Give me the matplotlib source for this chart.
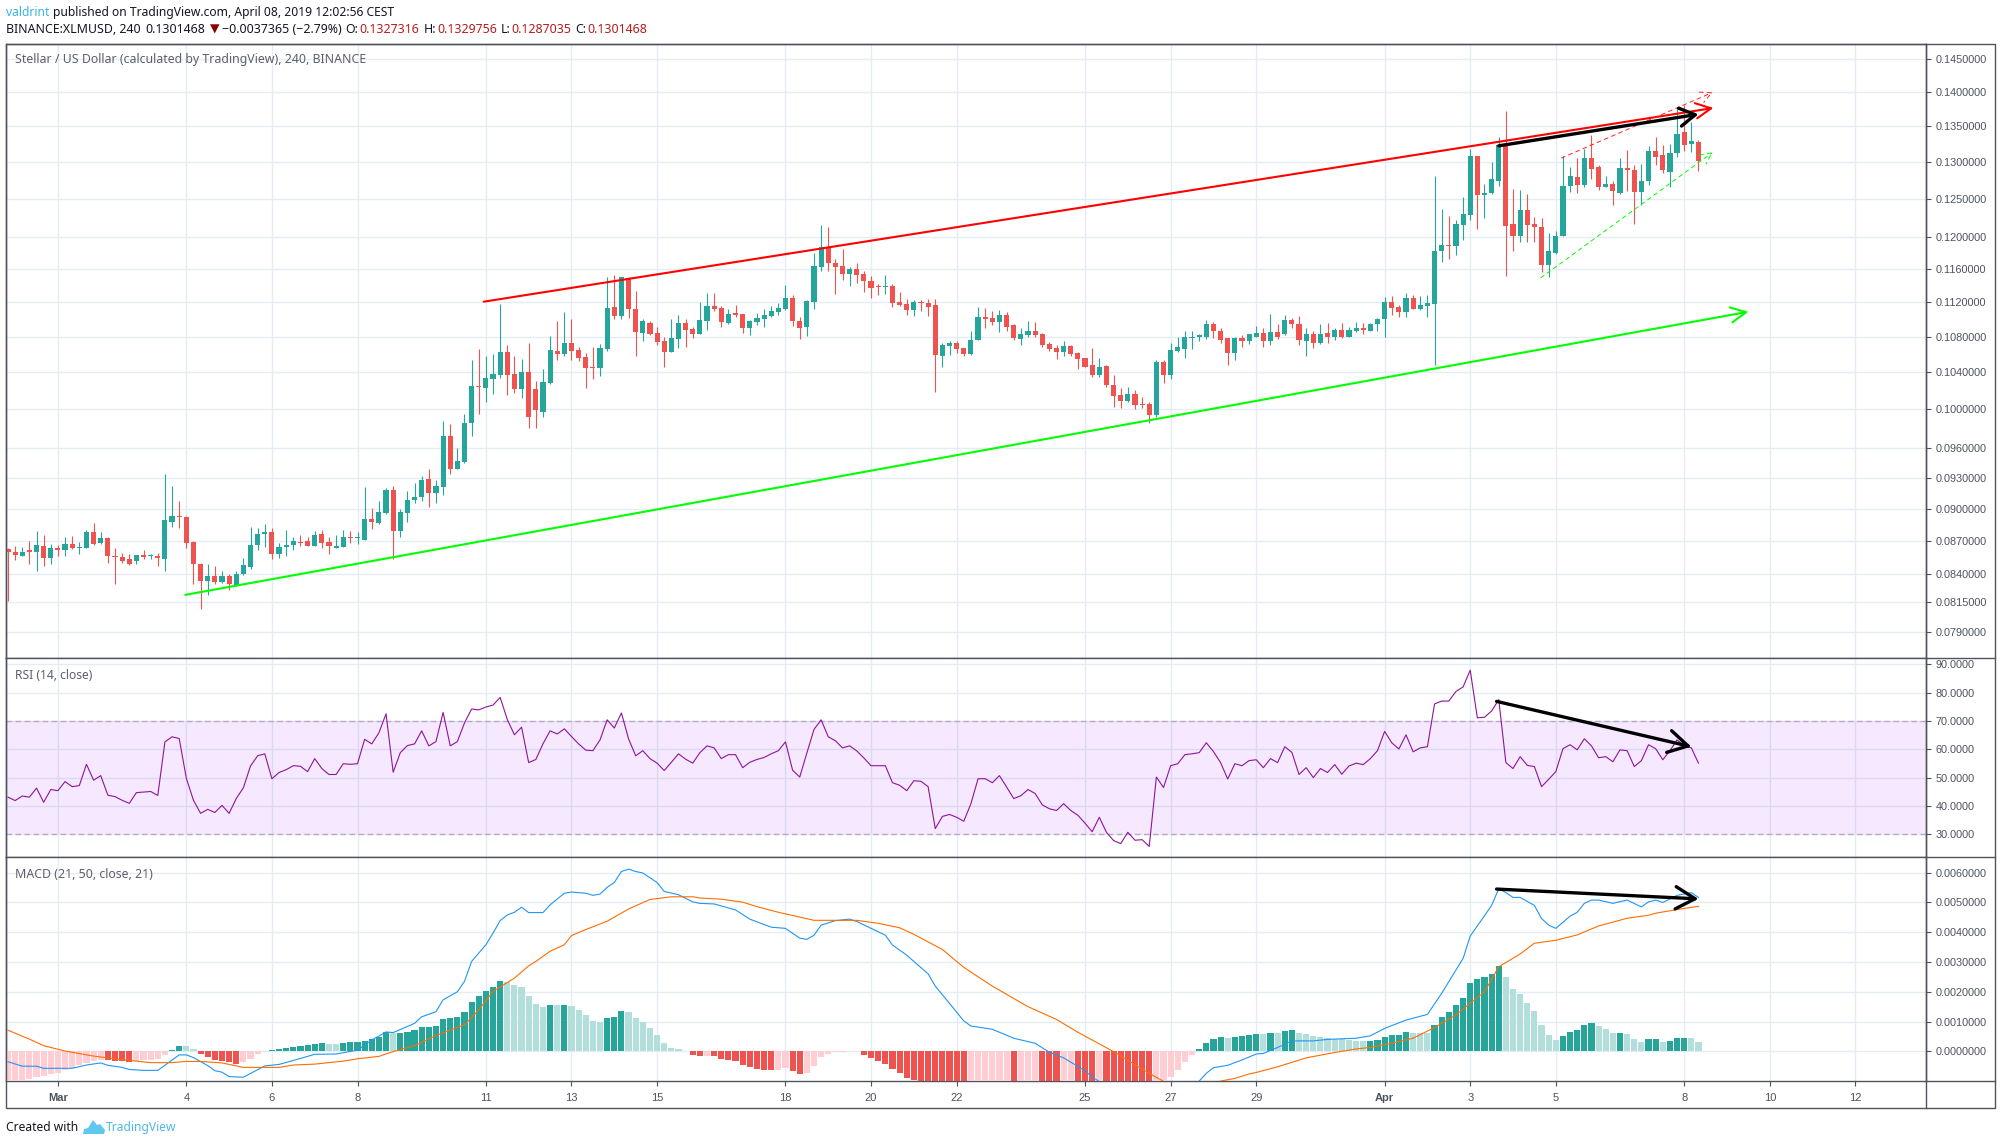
#!/usr/bin/env python3
"""XLM/USD 4h chart with RSI and MACD panes, TradingView style."""

import matplotlib
matplotlib.use("Agg")
import matplotlib.pyplot as plt  # noqa: E402
import numpy as np  # noqa: E402
from matplotlib.lines import Line2D  # noqa: E402
from matplotlib.patches import Polygon, Rectangle  # noqa: E402
from matplotlib.ticker import NullLocator  # noqa: E402

W, H = 2002, 1145
UP, DOWN = "#26a69a", "#ef5350"
UP_PALE, DOWN_PALE = "#b2dfdb", "#ffcdd2"
GRID = "#e4edf3"
FRAME = "#50535e"
LABEL = "#4c525e"
TICK_FONT = "Liberation Sans"
HEAD_FONT = ["Noto Sans", "DejaVu Sans"]

# candles, price in units of 0.0001
opens = [
    862, 860, 856, 861, 860, 865, 854, 863, 861, 867,
    863, 863, 878, 868, 872, 856, 855, 853, 851, 857,
    856, 856, 853, 887, 893, 892, 869, 849, 834, 838,
    833, 838, 830, 840, 846, 866, 876, 878, 858, 864,
    866, 869, 870, 865, 876, 869, 863, 864, 873, 872,
    871, 890, 886, 896, 918, 879, 896, 908, 911, 929,
    915, 921, 972, 939, 946, 986, 1025, 1023, 1033, 1037,
    1063, 1038, 1022, 1040, 1022, 997, 1028, 1064, 1060, 1073,
    1065, 1057, 1046, 1045, 1066, 1115, 1104, 1149, 1112, 1084,
    1096, 1084, 1075, 1063, 1077, 1096, 1089, 1083, 1098, 1116,
    1113, 1096, 1107, 1106, 1090, 1097, 1100, 1104, 1109, 1112,
    1125, 1098, 1091, 1120, 1163, 1188, 1168, 1164, 1154, 1160,
    1154, 1146, 1139, 1138, 1139, 1120, 1118, 1111, 1120, 1119,
    1117, 1058, 1069, 1073, 1067, 1060, 1076, 1103, 1101, 1097,
    1105, 1093, 1077, 1082, 1087, 1083, 1072, 1067, 1062, 1069,
    1061, 1056, 1048, 1037, 1047, 1026, 1015, 1009, 1016, 1006,
    1006, 994, 1051, 1037, 1064, 1066, 1078, 1079, 1080, 1094,
    1087, 1078, 1061, 1078, 1075, 1080, 1084, 1075, 1085, 1083,
    1099, 1095, 1075, 1083, 1073, 1084, 1079, 1088, 1079, 1086,
    1090, 1087, 1094, 1100, 1120, 1114, 1109, 1125, 1112, 1116,
    1118, 1182, 1190, 1189, 1216, 1229, 1308, 1255, 1257, 1274,
    1323, 1217, 1201, 1235, 1217, 1213, 1165, 1180, 1201, 1267,
    1279, 1268, 1305, 1292, 1265, 1269, 1258, 1291, 1289, 1259,
    1273, 1315, 1309, 1286, 1312, 1341, 1324, 1327,
]
highs = [
    863, 865, 864, 870, 879, 875, 867, 866, 873, 874,
    869, 880, 886, 878, 873, 863, 859, 858, 857, 861,
    858, 859, 934, 922, 907, 893, 870, 850, 849, 847,
    842, 840, 842, 854, 883, 882, 885, 882, 868, 880,
    873, 875, 873, 879, 880, 873, 875, 880, 879, 878,
    921, 901, 907, 920, 922, 900, 917, 925, 932, 939,
    928, 988, 984, 960, 995, 1054, 1066, 1058, 1060, 1118,
    1070, 1058, 1055, 1073, 1030, 1043, 1081, 1098, 1109, 1100,
    1068, 1061, 1068, 1071, 1150, 1153, 1151, 1151, 1134, 1100,
    1098, 1091, 1079, 1100, 1105, 1100, 1091, 1120, 1131, 1131,
    1116, 1112, 1117, 1106, 1099, 1107, 1112, 1116, 1119, 1141,
    1129, 1103, 1123, 1180, 1215, 1213, 1172, 1185, 1163, 1168,
    1158, 1152, 1142, 1153, 1142, 1132, 1124, 1123, 1123, 1124,
    1124, 1073, 1075, 1075, 1067, 1087, 1114, 1113, 1110, 1111,
    1109, 1095, 1090, 1098, 1097, 1084, 1074, 1070, 1075, 1070,
    1062, 1056, 1067, 1056, 1048, 1037, 1023, 1024, 1021, 1013,
    1008, 1054, 1054, 1073, 1080, 1086, 1087, 1083, 1099, 1097,
    1090, 1078, 1079, 1082, 1083, 1092, 1090, 1106, 1095, 1105,
    1101, 1104, 1090, 1087, 1094, 1096, 1090, 1096, 1091, 1097,
    1096, 1096, 1101, 1126, 1128, 1117, 1131, 1129, 1127, 1129,
    1280, 1237, 1227, 1222, 1252, 1317, 1308, 1269, 1300, 1335,
    1372, 1263, 1261, 1256, 1226, 1225, 1205, 1208, 1308, 1293,
    1305, 1318, 1337, 1295, 1280, 1273, 1305, 1316, 1296, 1297,
    1322, 1334, 1323, 1324, 1377, 1381, 1356, 1330,
]
lows = [
    816, 852, 856, 849, 842, 847, 849, 856, 856, 862,
    858, 863, 866, 867, 850, 831, 850, 848, 849, 853,
    853, 847, 842, 883, 882, 863, 831, 809, 821, 831,
    832, 826, 829, 839, 844, 861, 864, 853, 854, 856,
    861, 865, 865, 865, 863, 858, 863, 864, 868, 867,
    871, 881, 885, 895, 853, 873, 887, 905, 907, 902,
    905, 913, 934, 939, 945, 972, 995, 1008, 1016, 1034,
    1015, 1017, 1012, 980, 980, 992, 1027, 1053, 1058, 1053,
    1052, 1023, 1033, 1036, 1064, 1100, 1100, 1102, 1058, 1075,
    1082, 1070, 1046, 1062, 1067, 1068, 1078, 1083, 1088, 1110,
    1091, 1094, 1103, 1084, 1082, 1093, 1091, 1103, 1105, 1111,
    1092, 1077, 1081, 1112, 1158, 1158, 1130, 1147, 1139, 1143,
    1132, 1125, 1129, 1130, 1114, 1116, 1105, 1104, 1110, 1104,
    1018, 1046, 1059, 1061, 1058, 1059, 1076, 1090, 1093, 1085,
    1086, 1076, 1070, 1080, 1079, 1068, 1064, 1055, 1058, 1058,
    1044, 1046, 1035, 1035, 1024, 1002, 1001, 1008, 1000, 1001,
    985, 992, 1028, 1032, 1062, 1056, 1066, 1075, 1077, 1078,
    1073, 1048, 1054, 1068, 1072, 1080, 1068, 1070, 1077, 1082,
    1090, 1070, 1058, 1067, 1072, 1073, 1076, 1078, 1079, 1085,
    1083, 1086, 1086, 1080, 1105, 1103, 1103, 1112, 1111, 1103,
    1048, 1169, 1172, 1178, 1197, 1222, 1211, 1225, 1256, 1267,
    1152, 1182, 1194, 1194, 1194, 1157, 1150, 1179, 1201, 1259,
    1258, 1266, 1276, 1262, 1265, 1242, 1256, 1260, 1217, 1242,
    1268, 1296, 1284, 1265, 1306, 1315, 1314, 1287,
]
closes = [
    860, 857, 860, 860, 866, 854, 863, 861, 867, 863,
    864, 878, 867, 872, 856, 855, 851, 849, 857, 855,
    857, 854, 889, 893, 892, 868, 849, 834, 838, 833,
    838, 831, 840, 848, 866, 876, 878, 858, 864, 866,
    870, 868, 865, 875, 868, 865, 865, 873, 872, 873,
    890, 887, 897, 918, 879, 897, 908, 911, 928, 915,
    922, 972, 939, 947, 986, 1025, 1024, 1034, 1038, 1063,
    1037, 1022, 1040, 992, 999, 1029, 1065, 1060, 1073, 1064,
    1056, 1045, 1045, 1067, 1113, 1104, 1150, 1112, 1085, 1098,
    1083, 1074, 1063, 1078, 1096, 1088, 1083, 1099, 1116, 1112,
    1097, 1106, 1105, 1090, 1098, 1101, 1105, 1110, 1113, 1125,
    1098, 1090, 1121, 1164, 1188, 1168, 1163, 1154, 1160, 1153,
    1145, 1137, 1138, 1139, 1119, 1117, 1111, 1120, 1119, 1114,
    1059, 1070, 1073, 1066, 1060, 1076, 1103, 1100, 1097, 1105,
    1091, 1078, 1083, 1087, 1082, 1070, 1066, 1062, 1069, 1060,
    1055, 1046, 1037, 1046, 1026, 1014, 1009, 1016, 1005, 1005,
    994, 1051, 1037, 1065, 1068, 1079, 1079, 1082, 1094, 1086,
    1076, 1061, 1078, 1075, 1083, 1084, 1075, 1085, 1080, 1099,
    1094, 1076, 1083, 1073, 1083, 1079, 1088, 1079, 1088, 1090,
    1088, 1094, 1100, 1120, 1113, 1108, 1125, 1112, 1117, 1119,
    1182, 1190, 1189, 1217, 1230, 1308, 1255, 1257, 1276, 1323,
    1214, 1201, 1235, 1216, 1213, 1165, 1182, 1202, 1267, 1280,
    1268, 1305, 1290, 1265, 1270, 1260, 1291, 1288, 1259, 1273,
    1315, 1306, 1288, 1312, 1339, 1323, 1329, 1301,
]

rsi = [
    43.1, 41.9, 43.5, 43.1, 46.3, 41.3, 45.8, 45.4, 48.6, 46.8,
    47.2, 54.7, 49.1, 50.7, 43.8, 43.3, 42.0, 40.9, 44.7, 44.9,
    45.1, 43.7, 62.6, 64.4, 63.8, 49.8, 42.0, 37.4, 38.8, 37.7,
    40.2, 37.4, 42.6, 46.4, 54.1, 57.7, 58.4, 49.6, 51.8, 52.8,
    54.2, 54.0, 52.1, 56.7, 53.2, 51.1, 51.1, 54.9, 54.7, 54.9,
    63.5, 61.9, 65.8, 72.5, 51.9, 58.8, 61.3, 61.9, 66.5, 61.2,
    62.7, 73.0, 61.2, 62.7, 69.3, 74.2, 73.9, 74.9, 75.6, 78.3,
    70.5, 65.1, 67.8, 55.3, 56.4, 61.9, 66.5, 65.4, 67.2, 64.5,
    61.9, 59.7, 59.5, 63.3, 70.4, 67.5, 72.8, 63.7, 57.7, 59.5,
    56.7, 55.1, 52.5, 55.4, 58.4, 56.5, 55.1, 58.8,
    61.2, 60.5, 56.7, 58.1, 58.1, 53.5, 55.4, 56.4, 57.1, 58.4,
    59.5, 62.6, 52.6, 50.2, 58.7, 67.0, 70.4, 64.4, 63.0, 60.5,
    61.2, 59.4, 56.9, 54.2, 54.2, 54.2, 48.2, 47.3, 45.4, 48.9,
    48.7, 46.8, 32.0, 36.3, 37.0, 36.0, 34.6, 40.8, 49.6, 49.6,
    48.2, 50.7, 46.7, 42.6, 43.6, 45.8, 44.4, 40.4, 39.0, 38.4,
    40.8, 38.4, 36.7, 33.9, 30.9, 36.0, 30.7, 27.8, 26.7, 30.7,
    27.9, 28.1, 25.7, 50.2, 46.5, 54.2, 54.9, 58.1, 58.4, 58.8,
    62.3, 59.2, 55.3, 49.5, 54.9, 54.2, 56.0, 56.3, 53.5, 56.7,
    55.3, 60.9, 58.9, 51.1, 53.5, 50.0, 53.2, 51.8, 54.6,
    51.2, 54.1, 55.1, 54.6, 56.7, 59.5, 66.3, 62.3, 60.1, 65.1,
    59.1, 60.5, 60.9, 76.0, 77.0, 77.0, 80.4, 82.0, 87.9, 71.1,
    71.3, 73.5, 77.5, 55.3, 53.2, 57.4, 54.3, 53.9, 46.8, 49.4,
    52.1, 60.2, 61.6, 59.8, 63.7, 61.2, 57.0, 57.4, 55.6, 59.8,
    59.5, 53.9, 56.0, 61.6, 60.2, 56.3, 59.5, 63.3, 61.2, 60.5, 55.1,
]

# MACD pane, values in units of 0.001; bars past the pane bottom are cut off there
hist = [
    -1.3, -1.25, -1.2, -.93, -.86, -.82, -.76, -.72, -.62, -.55,
    -.45, -.40, -.33, -.28, -.29, -.31, -.33, -.36, -.32, -.30,
    -.29, -.27, -.12, .05, .18, .17, .08, -.09, -.19, -.29,
    -.33, -.37, -.43, -.36, -.26, -.09, .01, .05, .08, .11,
    .15, .18, .21, .25, .29, .26, .25, .27, .30, .31,
    .36, .42, .48, .66, .60, .63, .66, .72, .82, .83,
    .85, 1.09, 1.12, 1.15, 1.32, 1.66, 1.86, 2.03, 2.17, 2.37,
    2.34, 2.24, 2.17, 1.86, 1.59, 1.49, 1.55, 1.54, 1.55, 1.52,
    1.39, 1.22, 1.02, 1.00, 1.12, 1.15, 1.36, 1.32, 1.12, 1.00,
    .78, .55, .28, .11, .08, .01, -.13, -.17, -.15, -.16,
    -.26, -.30, -.32, -.46, -.53, -.59, -.63, -.64, -.62, -.56,
    -.66, -.76, -.74, -.49, -.19, -.09, -.02, -.01, .02, .01,
    -.12, -.22, -.32, -.43, -.59, -.73, -.90, -.97, -1.1, -1.25,
    -1.4, -1.55, -1.7, -1.8, -1.9, -1.8, -1.7, -1.6, -1.5, -1.45,
    -1.4, -1.5, -1.45, -1.4, -1.35, -1.4, -1.5, -1.6, -1.55, -1.5,
    -1.55, -1.65, -1.75, -1.7, -1.8, -1.9, -2.0, -2.05, -2.1, -2.15,
    -2.2, -1.9, -1.4, -.86, -.63, -.36, -.12, .08, .28, .41,
    .48, .45, .48, .51, .55, .58, .57, .61, .60, .68,
    .72, .61, .58, .52, .48, .45, .42, .40, .38, .36,
    .34, .35, .38, .48, .55, .56, .64, .63, .62, .61,
    .88, 1.15, 1.32, 1.56, 1.79, 2.30, 2.43, 2.50, 2.60, 2.87,
    2.50, 2.09, 1.93, 1.62, 1.35, .88, .55, .38, .52, .65,
    .72, .88, .95, .85, .75, .61, .62, .58, .41, .31,
    .40, .42, .31, .35, .45, .46, .45, .31,
]

macd_at = [
    0, 2, 4, 5, 9, 11, 13, 14, 16, 17, 19, 21, 24, 25, 26, 28, 29, 30, 31, 33,
    36, 38, 41, 43, 46, 49, 51, 53, 54, 57, 58, 60, 61, 63, 64, 65, 67, 68, 69, 70,
    71, 72, 73, 75, 76, 78, 79, 81, 82, 83, 84, 85, 86, 87, 88, 89, 91, 92, 94, 96,
    97, 99, 102, 104, 107, 109, 111, 112, 113, 114, 116, 118, 119, 121, 123, 124, 126, 129, 130, 132,
    134, 135, 138, 141, 144, 146, 148, 151, 152, 153, 157, 160, 164, 167, 168, 169, 171, 173, 175, 176,
    178, 180, 183, 185, 189, 191, 193, 196, 199, 201, 202, 204, 205, 208, 209, 210, 211, 212, 214, 215,
    216, 217, 219, 220, 221, 222, 223, 225, 227, 229, 230, 231, 232, 234, 236, 237,
]
macd_line = [
    -.35, -.50, -.50, -.57, -.57, -.46, -.39, -.47, -.54, -.61, -.64, -.64, -.12, -.12, -.21, -.48, -.65, -.70, -.85, -.87,
    -.49, -.44, -.24, -.10, -.09, .04, .38, .65, .63, .94, 1.16, 1.33, 1.73, 2.0, 2.35, 3.02, 3.58, 3.97, 4.39, 4.58,
    4.67, 4.84, 4.66, 4.66, 4.92, 5.31, 5.35, 5.31, 5.24, 5.28, 5.51, 5.67, 6.04, 6.12, 6.04, 5.99, 5.67, 5.37, 5.26, 5.02,
    4.97, 4.95, 4.75, 4.44, 4.17, 4.13, 3.80, 3.76, 3.90, 4.24, 4.39, 4.44, 4.36, 4.13, 3.90, 3.57, 3.23, 2.6, 2.19, 1.61,
    1.02, .85, .74, .44, .27, -.03, -.22, -.65, -.87, -1.01, -1.6, -1.9, -1.5, -1.0, -.74, -.55, -.47, -.29, -.09, -.07,
    .13, .35, .35, .40, .44, .52, .77, 1.05, 1.24, 1.95, 2.34, 3.12, 3.87, 4.90, 5.46, 5.33, 5.17, 5.17, 4.90, 4.46,
    4.24, 4.13, 4.54, 4.67, 4.97, 5.08, 5.08, 4.97, 5.08, 4.85, 5.02, 5.08, 5.00, 5.24, 5.33, 5.17,
]
signal_at = [
    0, 3, 5, 8, 12, 15, 18, 20, 23, 25, 27, 30, 33, 38, 40, 43, 47, 49, 52, 54,
    57, 60, 64, 66, 68, 71, 73, 74, 76, 78, 79, 81, 84, 87, 90, 93, 96, 97, 100, 103,
    105, 108, 113, 119, 122, 125, 127, 131, 134, 138, 143, 147, 150, 155, 160, 162, 166, 170, 172, 174,
    175, 178, 182, 186, 189, 191, 194, 197, 200, 203, 207, 209, 212, 214, 217, 220, 223, 227, 230, 231,
    235, 237,
]
signal_line = [
    .71, .41, .19, .01, -.16, -.25, -.33, -.38, -.38, -.34, -.34, -.39, -.54, -.54, -.46, -.43, -.33, -.25, -.17, -.01,
    .19, .53, .89, 1.39, 2.01, 2.46, 2.87, 3.02, 3.36, 3.58, 3.89, 4.09, 4.37, 4.78, 5.10, 5.19, 5.19, 5.15, 5.11, 5.01,
    4.86, 4.67, 4.40, 4.40, 4.30, 4.15, 3.93, 3.42, 2.82, 2.19, 1.50, 1.07, .64, -.01, -.74, -1.01, -1.35, -1.0, -.91, -.76,
    -.71, -.52, -.22, -.04, .08, .13, .27, .44, .80, 1.22, 2.0, 2.84, 3.27, 3.63, 3.73, 3.91, 4.21, 4.47, 4.57, 4.64,
    4.80, 4.87,
]

# hand drawn lines: [candle index start, end], [value start, end]
red_line_x, red_line_y = [66.7, 239.1], [.11207, .13761]
green_line_x, green_line_y = [24.85, 244.0], [.08214, .11088]
black_price_x, black_price_y = [209.0, 237.0], [.1322, .1367]
red_dash_x, red_dash_y = [217.8, 239.0], [.1305, .1399]
green_dash_x, green_dash_y = [214.9, 239.0], [.11494, .1313]
black_rsi_x, black_rsi_y = [208.7, 236.0], [76.9, 60.9]
black_macd_x, black_macd_y = [208.7, 237.0], [.00545, .00512]

price_ticks = [.145, .14, .135, .13, .125, .12, .116, .112, .108, .104, .10,
               .096, .093, .09, .087, .084, .0815, .079]
rsi_ticks = [90, 80, 70, 60, 50, 40, 30]
macd_ticks = [.006, .005, .004, .003, .002, .001, 0]
day_labels = ["Mar", "4", "6", "8", "11", "13", "15", "18", "20", "22", "25",
              "27", "29", "Apr", "3", "5", "8", "10", "12"]
day_numbers = [1, 4, 6, 8, 11, 13, 15, 18, 20, 22, 25, 27, 29, 32, 34, 36, 39, 41, 43]


def px_axes(fig, left, top, right, bottom):
    return fig.add_axes([left / W, 1 - bottom / H, (right - left) / W, (bottom - top) / H])


def fig_line(fig, x0, y0, x1, y1):
    fig.add_artist(Line2D([x0 / W, x1 / W], [1 - y0 / H, 1 - y1 / H], color=FRAME, lw=1.0))


def draw_run(fig, x, y, pieces, size):
    # pieces of different colour and weight laid out one after the other
    rend = fig.canvas.get_renderer()
    for s, color, weight, gap in pieces:
        t = fig.text(x / W, 1 - y / H, s, color=color, fontweight=weight, family=HEAD_FONT,
                     fontsize=size, va="center", ha="left")
        x = t.get_window_extent(rend).x1 + gap


def arrow(ax, xs, ys, color, lw, ls="-", length=0.9, width=0.5, z=6):
    ax.annotate("", xy=(xs[1], ys[1]), xytext=(xs[0], ys[0]), zorder=z,
                arrowprops=dict(arrowstyle=f"->,head_length={length},head_width={width}",
                                color=color, lw=lw, ls=ls, shrinkA=0, shrinkB=0,
                                mutation_scale=10))


fig = plt.figure(figsize=(W / 100, H / 100), dpi=100, facecolor="white")
plt.rcParams["font.family"] = [TICK_FONT, "DejaVu Sans"]

LEFT, RIGHT, OUTER = 6.4, 1926, 1995
TOP, RSI_TOP, MACD_TOP, AXIS_Y, BOTTOM = 43.5, 658.3, 857.3, 1081.3, 1108.3
ax = px_axes(fig, LEFT, TOP, RIGHT, RSI_TOP)
ax_rsi = px_axes(fig, LEFT, RSI_TOP, RIGHT, MACD_TOP)
ax_macd = px_axes(fig, LEFT, MACD_TOP, RIGHT, AXIS_Y)

xs = np.arange(len(closes))
o, h, l, c = (np.array(v) * 1e-4 for v in (opens, highs, lows, closes))
tick_x = [7 + 6 * (d - 1) for d in day_numbers]

for a in (ax, ax_rsi, ax_macd):
    a.set_xlim(-0.224, 268.9)
    a.set_xticks(tick_x)
    a.yaxis.tick_right()
    a.grid(True, color=GRID, lw=1.0, zorder=0)
    a.set_axisbelow(True)
    a.tick_params(axis="y", length=3.5, width=0.8, color=FRAME, labelcolor=LABEL, labelsize=7.8, pad=3.2)
    a.tick_params(axis="x", bottom=False, labelbottom=False)
    for sp in a.spines.values():
        sp.set_color(FRAME)
        sp.set_linewidth(1.0)

# price pane
ax.set_yscale("log")
ax.set_ylim(.0768, .14734)
ax.yaxis.set_minor_locator(NullLocator())
ax.yaxis.set_minor_formatter(plt.NullFormatter())
ax.set_yticks(price_ticks)
ax.set_yticklabels([f"{v:.7f}" for v in price_ticks])
colors = [UP if b >= a else DOWN for a, b in zip(o, c)]
ax.vlines(xs, l, h, colors=colors, lw=0.8, zorder=3)
ax.bar(xs, np.abs(c - o), bottom=np.minimum(o, c), width=0.72, color=colors, lw=0, zorder=4)

arrow(ax, red_line_x, red_line_y, "#ff0000", 1.5, length=1.1, width=0.55)
arrow(ax, green_line_x, green_line_y, "#00ff00", 1.5, length=1.1, width=0.55)
arrow(ax, red_dash_x, red_dash_y, "#ff2020", 0.7, ls=(0, (4, 4)), length=0.8, width=0.4)
arrow(ax, green_dash_x, green_dash_y, "#00ff00", 0.7, ls=(0, (4, 4)), length=0.8, width=0.4)
arrow(ax, black_price_x, black_price_y, "black", 2.4, length=1.1, width=0.65, z=7)

# RSI pane
ax_rsi.set_ylim(21.88, 92.1)
ax_rsi.set_yticks(rsi_ticks)
ax_rsi.set_yticklabels([f"{v:.4f}" for v in rsi_ticks])
ax_rsi.axhspan(30, 70, color="#9915ff", alpha=0.095, lw=0, zorder=1)
for v in (30, 70):
    ax_rsi.axhline(v, color="#b9aabf", lw=1.0, ls=(0, (4, 2.5)), zorder=2)
ax_rsi.plot(xs, rsi, color="#8e1599", lw=0.8, zorder=4)
arrow(ax_rsi, black_rsi_x, black_rsi_y, "black", 2.4, length=1.4, width=0.8)

# MACD pane
ax_macd.set_ylim(-.001007, .006517)
ax_macd.set_yticks(macd_ticks)
ax_macd.set_yticklabels([f"{v:.7f}" for v in macd_ticks])
hist_v = np.array(hist) * 1e-3
prev = np.r_[hist_v[0] - 1, hist_v[:-1]]
bar_colors = []
for v, p in zip(hist_v, prev):
    if v >= 0:
        bar_colors.append(UP if v > p else UP_PALE)
    else:
        bar_colors.append(DOWN_PALE if v > p else DOWN)
ax_macd.bar(xs, hist_v, width=0.86, color=bar_colors, lw=0, zorder=3)
ax_macd.plot(macd_at, np.array(macd_line) * 1e-3, color="#2196f3", lw=0.8, zorder=4)
ax_macd.plot(signal_at, np.array(signal_line) * 1e-3, color="#ff6d00", lw=0.8, zorder=5)
arrow(ax_macd, black_macd_x, black_macd_y, "black", 2.4, length=1.4, width=0.8)

ax_macd.tick_params(axis="x", bottom=True, labelbottom=True, length=3.5, width=0.8,
                    color=FRAME, labelcolor=LABEL, labelsize=8, pad=4.8)
ax_macd.set_xticklabels(day_labels)
for t in ax_macd.get_xticklabels():
    if t.get_text() in ("Mar", "Apr"):
        t.set_fontweight("bold")

# outer frame of the whole chart
fig.add_artist(Rectangle((LEFT / W, 1 - BOTTOM / H), (OUTER - LEFT) / W, (BOTTOM - TOP) / H,
                         fill=False, edgecolor=FRAME, lw=1.0, transform=fig.transFigure))
fig_line(fig, RIGHT, TOP, RIGHT, BOTTOM)
for y in (RSI_TOP, MACD_TOP, AXIS_Y):
    fig_line(fig, RIGHT, y, OUTER, y)

# texts
dark = "#131722"
red = "#b71c1c"
draw_run(fig, 6, 12.5, [("valdrint", "#3bb3e4", "normal", 4),
                        ("published on TradingView.com, April 08, 2019 12:02:56 CEST", dark, "normal", 0)], 8.7)
draw_run(fig, 6, 29.5, [("BINANCE:XLMUSD, 240", dark, "bold", 5), ("0.1301468", dark, "normal", 4),
                        ("▼", "#8b0000", "normal", 3), ("−0.0037365 (−2.79%)", dark, "normal", 4),
                        ("O:", dark, "bold", 1), ("0.1327316", red, "normal", 4),
                        ("H:", dark, "bold", 1), ("0.1329756", red, "normal", 4),
                        ("L:", dark, "bold", 1), ("0.1287035", red, "normal", 4),
                        ("C:", dark, "bold", 1), ("0.1301468", red, "normal", 0)], 8.9)
fig.text(15 / W, 1 - 60 / H, "Stellar / US Dollar (calculated by TradingView), 240, BINANCE",
         color="#5d606b", fontweight="bold", family=HEAD_FONT, fontsize=8.9, va="center")
fig.text(15 / W, 1 - 675.7 / H, "RSI (14, close)", color="#5d606b", family=HEAD_FONT, fontsize=8.7, va="center")
fig.text(15 / W, 1 - 874.7 / H, "MACD (21, 50, close, 21)", color="#5d606b", family=HEAD_FONT, fontsize=8.9, va="center")

# footer with the small logo
fig.text(6 / W, 1 - 1127.7 / H, "Created with", color=dark, family=HEAD_FONT, fontsize=8.7, va="center")
logo = [(83, 1134), (84, 1129), (88, 1128), (93, 1120), (97, 1125), (100, 1124), (105, 1130), (104, 1134)]
fig.add_artist(Polygon([(x / W, 1 - y / H) for x, y in logo], closed=True, facecolor="#5ec8ee",
                       edgecolor="none", transform=fig.transFigure))
fig.text(106 / W, 1 - 1127.7 / H, "TradingView", color="#4fb8e6", family=HEAD_FONT, fontsize=8.7, va="center")

fig.savefig("out.png", dpi=100, facecolor="white")
